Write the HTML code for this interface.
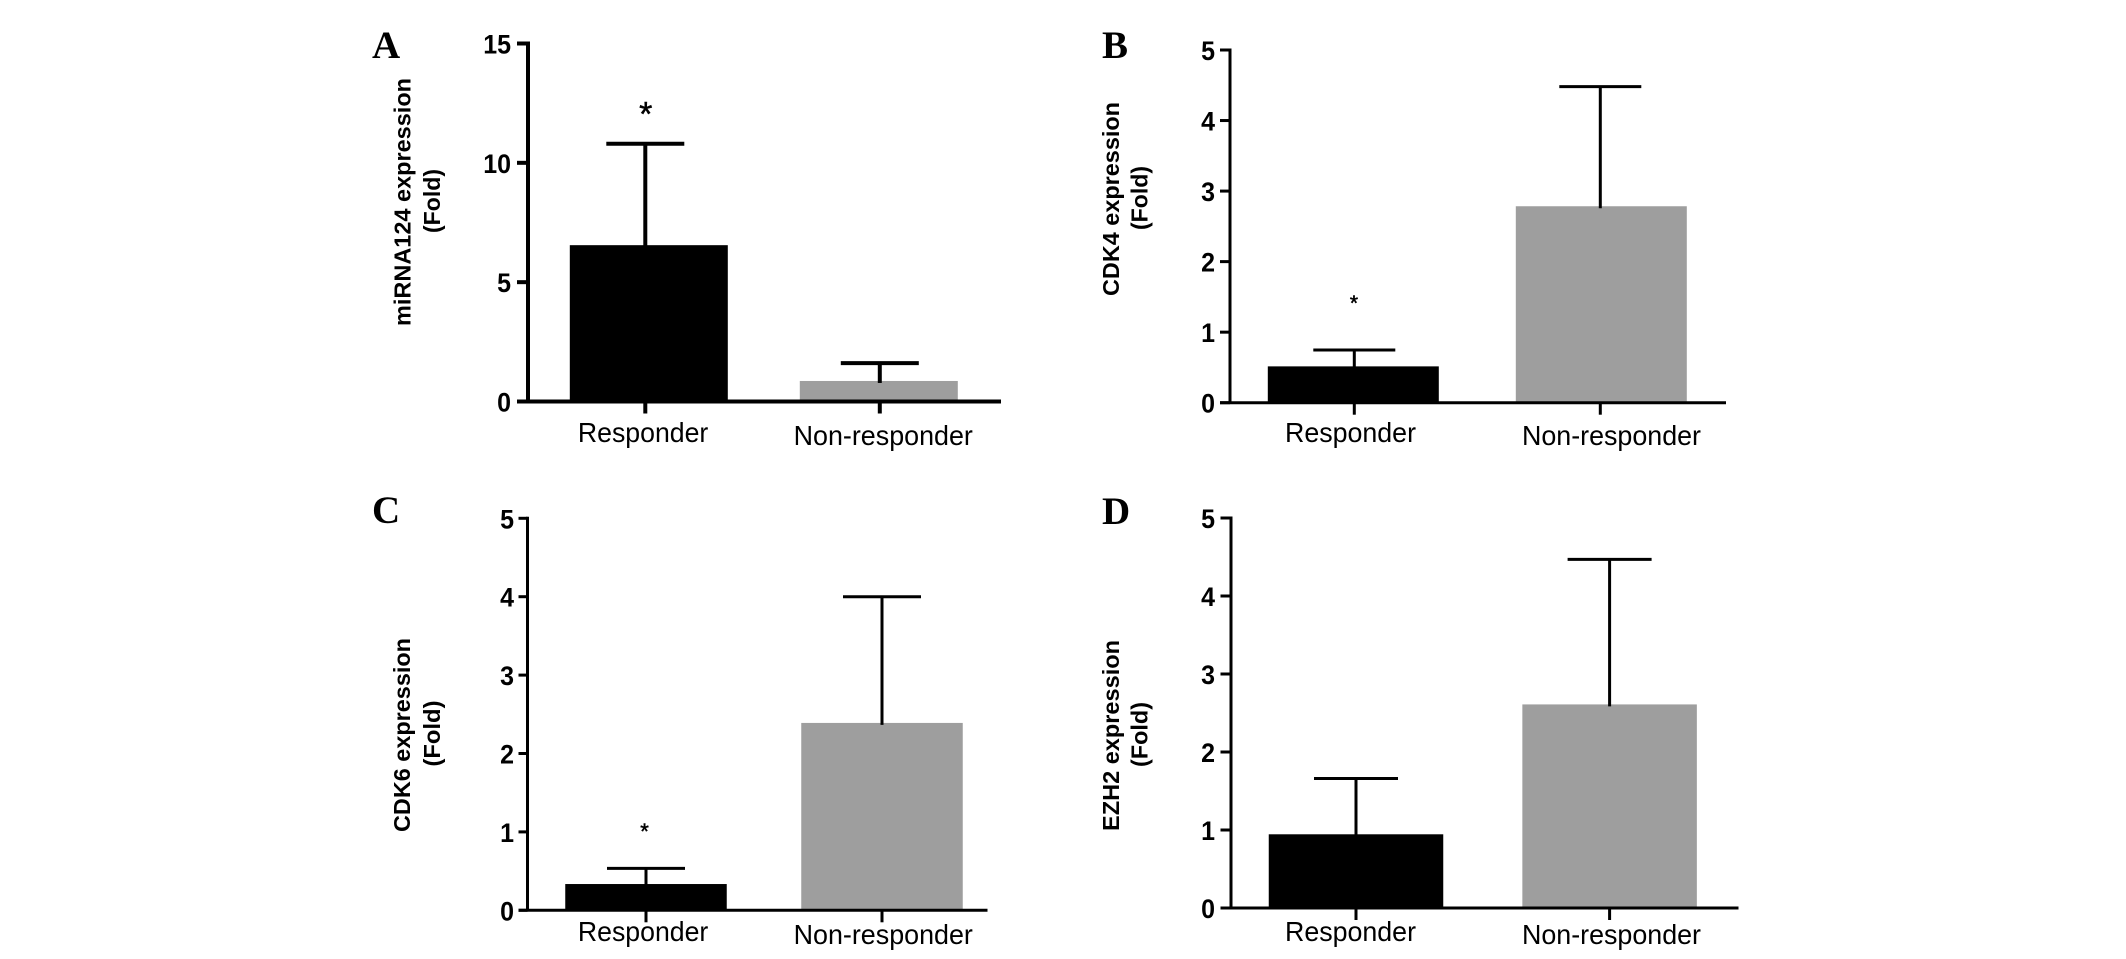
<!DOCTYPE html>
<html>
<head>
<meta charset="utf-8">
<style>
html,body{margin:0;padding:0;background:#fff;width:2126px;height:959px;overflow:hidden}
svg{display:block}
</style>
</head>
<body>
<svg id="figure" width="2126" height="959" viewBox="0 0 2126 959" xmlns="http://www.w3.org/2000/svg"></svg>
<script>
// ---- data ----
const categories = ['Responder', 'Non-responder'];
const ticksA = [0, 5, 10, 15];
const ticksFive = [0, 1, 2, 3, 4, 5];
const meansA = [6.55, 0.86];
const upperA = [10.8, 1.61];
const meansB = [0.515, 2.785];
const upperB = [0.747, 4.48];
const meansC = [0.335, 2.39];
const upperC = [0.535, 4.0];
const meansD = [0.945, 2.61];
const upperD = [1.66, 4.47];
const barColors = ['#000000', '#9e9e9e'];

// ---- layout ----
const panels = [
  {id:'a', letter:'A', lx:372, ly:58, means:meansA, upper:upperA, ticks:ticksA, yMax:15,
   ax:528, top:43.5, base:401.5, axL:517, axR:1001, c0:648.8, step:230, barW:158, capW:78, sw:4, errShift:[-3.5, 1],
   tickR:511, title:'miRNA124 expression', t1x:410.5, t1y:202, t1len:248, t2x:440, t2y:201, t2len:64,
   labelX:[[577.9,130.4,442],[793.6,179.3,445]], star:true, sx:645.8, sy:125.5, sfs:34},
  {id:'b', letter:'B', lx:1102, ly:58, means:meansB, upper:upperB, ticks:ticksFive, yMax:5,
   ax:1230, top:50, base:402.7, axL:1220, axR:1726, c0:1353.3, step:248, barW:171, capW:82, sw:3, errShift:[1, -1],
   tickR:1215, title:'CDK4 expression', t1x:1119, t1y:199, t1len:194, t2x:1147.6, t2y:198, t2len:64,
   labelX:[[1285,131,442],[1522,179,445]], star:true, sx:1354, sy:310, sfs:21},
  {id:'c', letter:'C', lx:372, ly:523, means:meansC, upper:upperC, ticks:ticksFive, yMax:5,
   ax:527.5, top:518.3, base:910.3, axL:518.5, axR:987.5, c0:646, step:236, barW:161.5, capW:78, sw:3, errShift:[0, 0],
   tickR:514, title:'CDK6 expression', t1x:410, t1y:735, t1len:194, t2x:440, t2y:733.5, t2len:66,
   labelX:[[577.9,130.4,941],[793.6,179.3,944]], star:true, sx:644.5, sy:839, sfs:22},
  {id:'d', letter:'D', lx:1102, ly:524, means:meansD, upper:upperD, ticks:ticksFive, yMax:5,
   ax:1231, top:518, base:908, axL:1220.5, axR:1738.5, c0:1356, step:253.6, barW:174.5, capW:84, sw:3, errShift:[0, 0],
   tickR:1215, title:'EZH2 expression', t1x:1119, t1y:735.5, t1len:191, t2x:1147.6, t2y:734.5, t2len:65,
   labelX:[[1285,131,941],[1522,179,944]], star:false}
];

// ---- drawing ----
const NS = 'http://www.w3.org/2000/svg';
const svg = document.getElementById('figure');

function mk(parent, tag, attrs, txt) {
  const n = document.createElementNS(NS, tag);
  for (const k in attrs) n.setAttribute(k, attrs[k]);
  if (txt !== undefined) n.textContent = txt;
  parent.appendChild(n);
  return n;
}

panels.forEach(function (p) {
  const yScale = function (v) { return p.base + (p.top - p.base) * v / p.yMax; };
  const xScale = function (i) { return p.c0 + i * p.step; };

  const g = mk(svg, 'g', {});
  
  

  const letter = mk(g, 'text', {x:p.lx, y:p.ly, 'font-family':'"Liberation Serif", serif', 'font-weight':'bold', 'font-size':39, fill:'#000'}, p.letter);
  
  

  // bars and error bars
  categories.forEach(function (cat, i) {
    const cx = xScale(i);
    const ex = cx + p.errShift[i];
    const top = yScale(p.means[i]);
    const up = yScale(p.upper[i]);

    const bar = mk(g, 'rect', {x:cx - p.barW / 2, y:top, width:p.barW, height:p.base - top, fill:barColors[i]});
    
    

    const stem = mk(g, 'line', {x1:ex, x2:ex, y1:up, y2:top + 2, stroke:'#000', 'stroke-width':p.sw});
    
    

    const cap = mk(g, 'line', {x1:ex - p.capW / 2, x2:ex + p.capW / 2, y1:up, y2:up, stroke:'#000', 'stroke-width':p.sw});
    
    

    const tick = mk(g, 'line', {x1:ex, x2:ex, y1:p.base, y2:p.base + 12, stroke:'#000', 'stroke-width':p.sw});
    
    

    const lab = p.labelX[i];
    const label = mk(g, 'text', {x:lab[0], y:lab[2], textLength:lab[1], lengthAdjust:'spacingAndGlyphs', 'font-family':'"Liberation Sans", sans-serif', 'font-size':28, fill:'#000'}, cat);
    
    
  });

  // axes
  const yAxis = mk(g, 'line', {x1:p.ax, x2:p.ax, y1:p.top - p.sw / 2, y2:p.base, stroke:'#000', 'stroke-width':p.sw});
  
  

  const xAxis = mk(g, 'line', {x1:p.axL, x2:p.axR, y1:p.base, y2:p.base, stroke:'#000', 'stroke-width':p.sw});
  
  

  p.ticks.forEach(function (t) {
    const ty = yScale(t);
    const tk = mk(g, 'line', {x1:p.axL, x2:p.ax, y1:ty, y2:ty, stroke:'#000', 'stroke-width':p.sw});
    
    

    const s = String(t);
    const tl = mk(g, 'text', {x:p.tickR - 13.9 * s.length, y:ty + 10, textLength:13.9 * s.length, lengthAdjust:'spacingAndGlyphs', 'font-family':'"Liberation Sans", sans-serif', 'font-weight':'bold', 'font-size':27, fill:'#000'}, s);
    
    
  });

  // axis title (two rotated lines)
  const t1 = mk(g, 'text', {x:0, y:0, 'text-anchor':'middle', textLength:p.t1len, lengthAdjust:'spacingAndGlyphs', transform:'translate(' + p.t1x + ' ' + p.t1y + ') rotate(-90)', 'font-family':'"Liberation Sans", sans-serif', 'font-weight':'bold', 'font-size':23, fill:'#000'}, p.title);
  
  

  const t2 = mk(g, 'text', {x:0, y:0, 'text-anchor':'middle', textLength:p.t2len, lengthAdjust:'spacingAndGlyphs', transform:'translate(' + p.t2x + ' ' + p.t2y + ') rotate(-90)', 'font-family':'"Liberation Sans", sans-serif', 'font-weight':'bold', 'font-size':23, fill:'#000'}, '(Fold)');
  
  

  if (p.star) {
    const s = mk(g, 'text', {x:p.sx, y:p.sy, 'text-anchor':'middle', 'font-family':'"Liberation Sans", sans-serif', 'font-size':p.sfs, fill:'#000', stroke:'#000', 'stroke-width':0.5}, '*');
    
    
  }
});
</script>
</body>
</html>
